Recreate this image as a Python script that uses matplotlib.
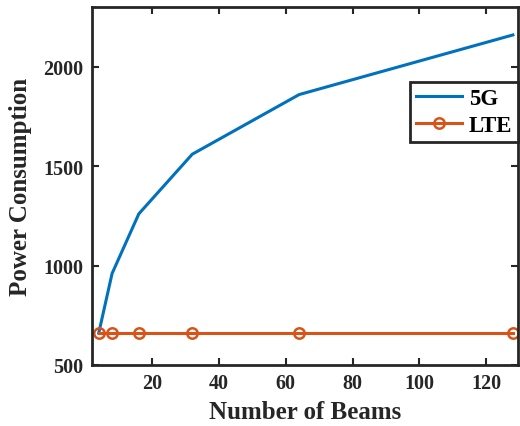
import matplotlib
matplotlib.use("Agg")
import matplotlib.pyplot as plt

# Data
beams = [4, 8, 16, 32, 64, 128]
power_5g = [660, 960, 1260, 1560, 1860, 2160]
power_lte = [660, 660, 660, 660, 660, 660]

plt.rcParams['font.family'] = ['Liberation Serif', 'DejaVu Serif']
plt.rcParams['font.weight'] = 'bold'

fig = plt.figure(figsize=(5.2, 4.27), dpi=100)
ax = fig.add_axes([0.177, 0.143, 0.819, 0.838])

ax.plot(beams, power_5g, color='#0072BD', linewidth=2.2, label='5G')
ax.plot(beams, power_lte, color='#D95319', linewidth=2.2, marker='o',
        markersize=7.5, markerfacecolor='none', markeredgewidth=1.8, label='LTE')

ax.set_xlim(2, 129.5)
ax.set_ylim(500, 2300)
ax.set_xticks([20, 40, 60, 80, 100, 120])
ax.set_yticks([500, 1000, 1500, 2000])

ax.tick_params(direction='in', top=True, right=True, length=5, width=1.5,
               labelsize=14.5, pad=6, colors='#262626')
for s in ax.spines.values():
    s.set_linewidth(2)
    s.set_color('#262626')

ax.set_xlabel('Number of Beams', fontsize=18, fontweight='bold', color='#262626',
              labelpad=5)
ax.set_ylabel('Power Consumption', fontsize=18, fontweight='bold', color='#262626',
              labelpad=8)

leg = ax.legend(loc='upper right', bbox_to_anchor=(1.0, 0.79), fontsize=16.5,
                fancybox=False, framealpha=1, edgecolor='#262626',
                handlelength=2.0, borderpad=0.25, labelspacing=0.25,
                handletextpad=0.3, borderaxespad=0)
leg.get_frame().set_linewidth(2)

fig.savefig('out.png', dpi=100)
